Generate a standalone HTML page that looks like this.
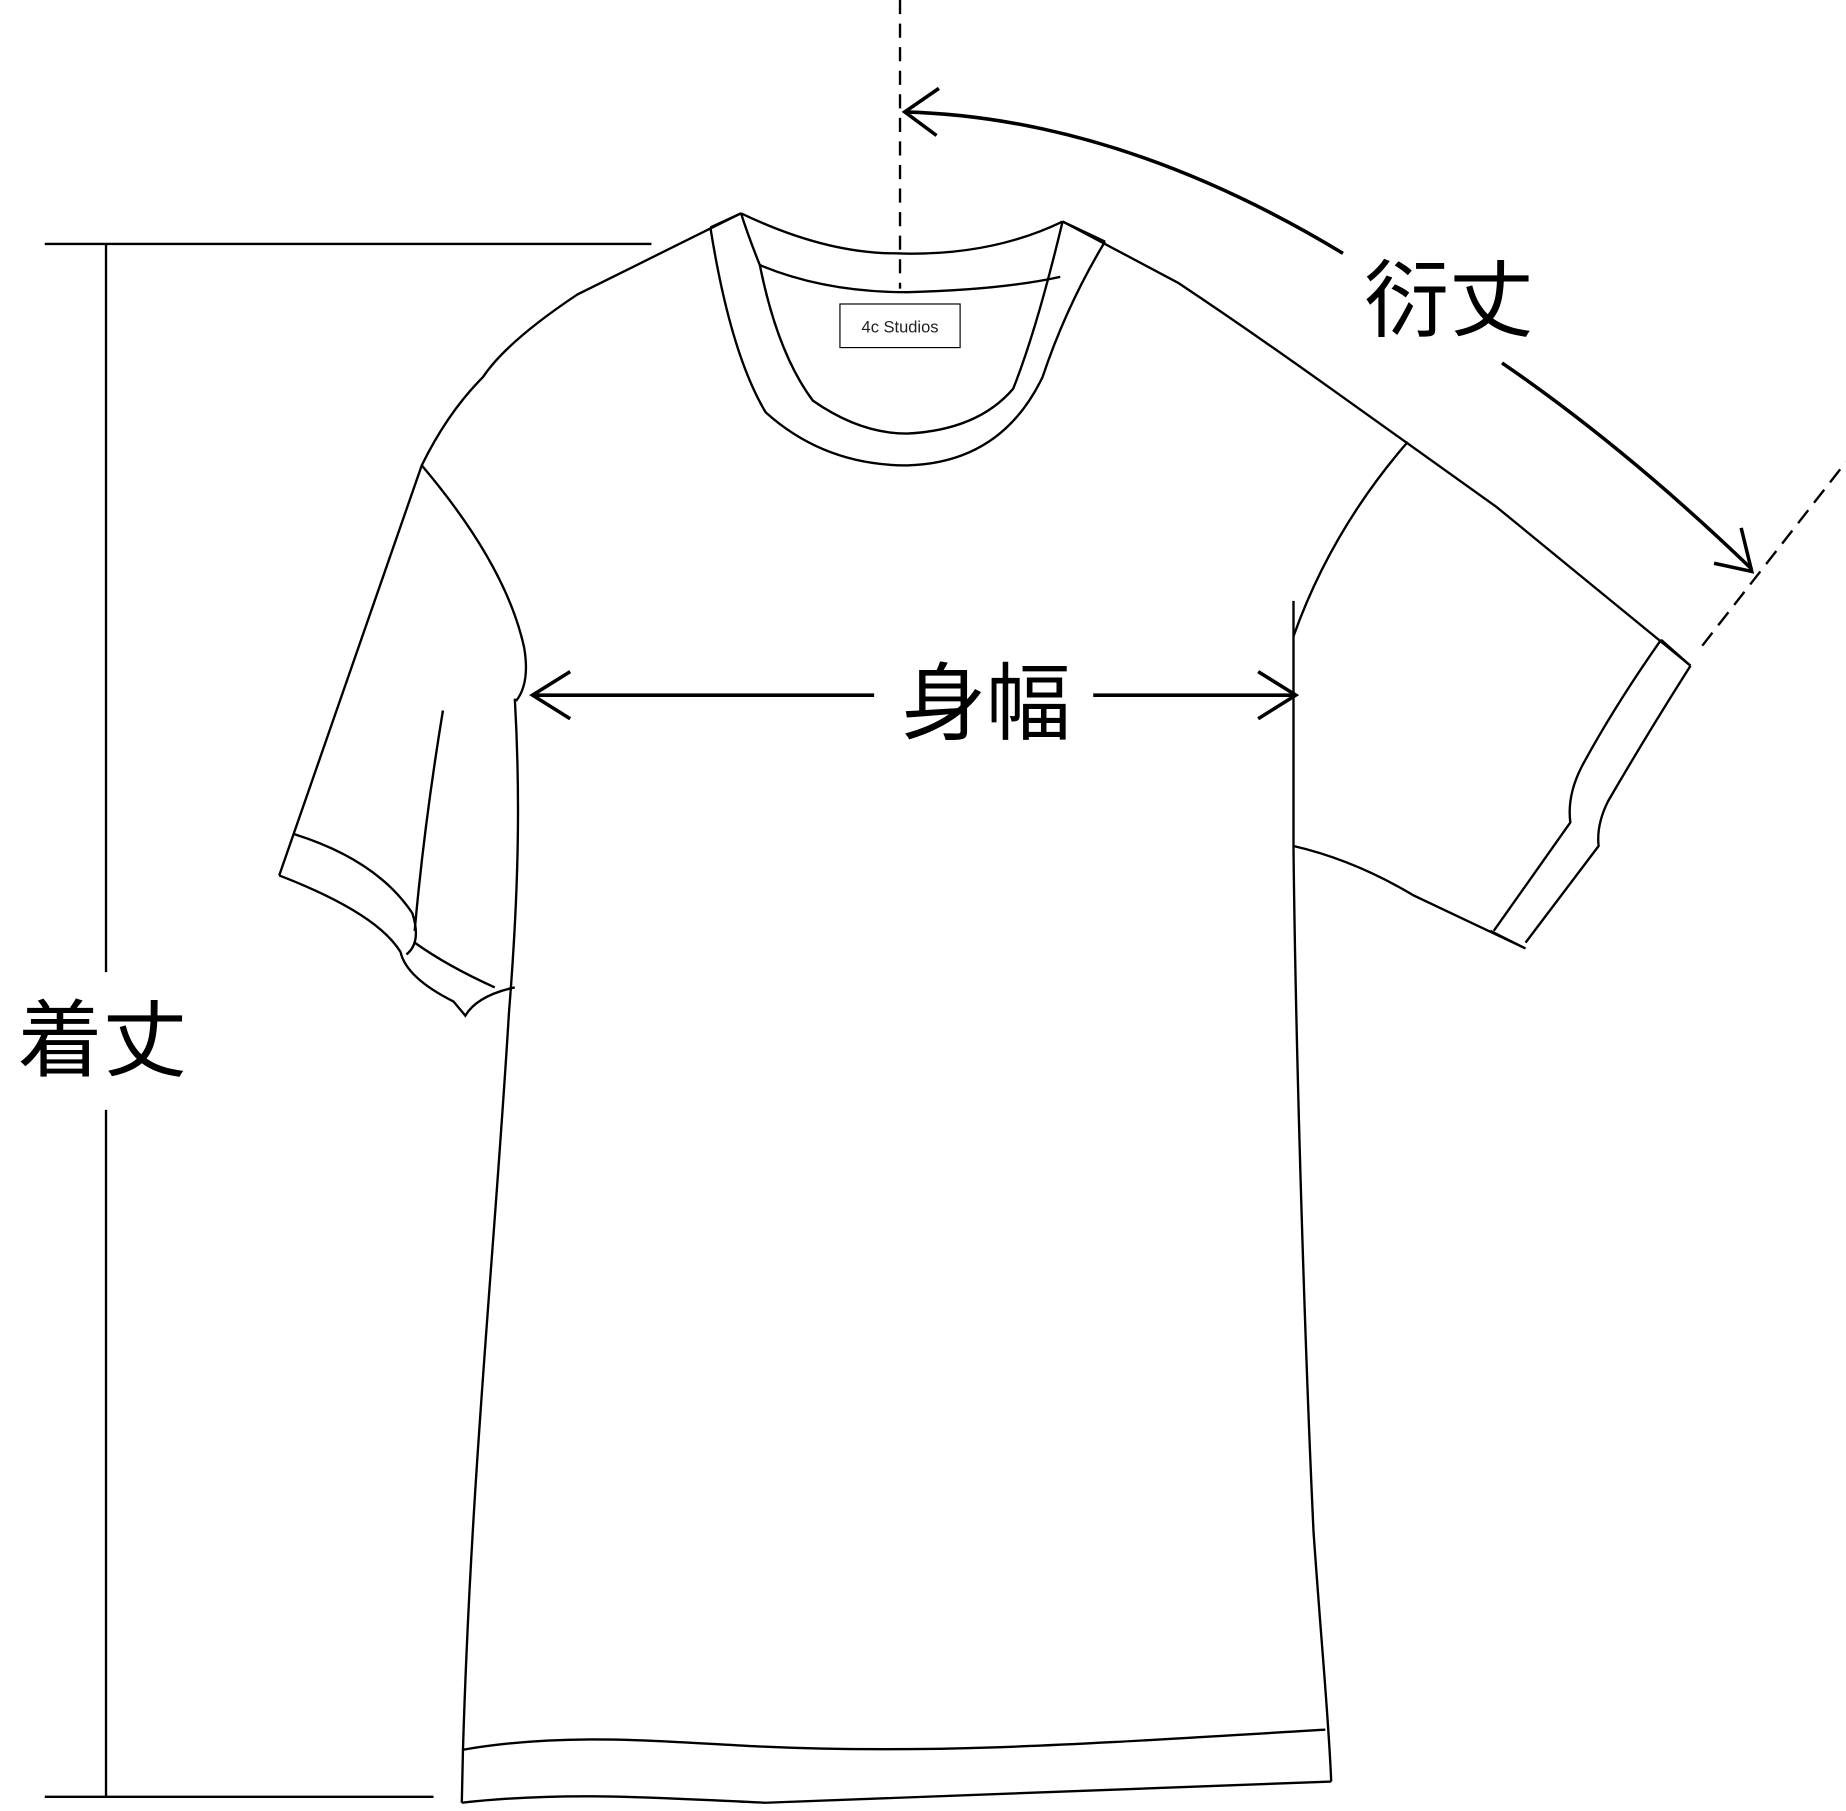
<!DOCTYPE html>
<html><head><meta charset="utf-8"><style>
html,body{margin:0;padding:0;background:#fff;}
svg{display:block}
text{font-family:"Liberation Sans","Noto Sans CJK JP",sans-serif;}
</style></head><body>
<svg width="1846" height="1811" viewBox="0 0 1567 1537" preserveAspectRatio="none" xmlns="http://www.w3.org/2000/svg">
<g fill="none" stroke="#000" stroke-width="2">
<line x1="764" y1="0" x2="764" y2="245" stroke-dasharray="12,8"/>
<path d="M768,95 Q950,100 1140,215" stroke-width="3"/>
<path d="M797,75 L768,95 L795,115" stroke-width="3"/>
<path d="M1275,308 Q1380,380 1487,483" stroke-width="3"/>
<path d="M1455,478 L1487,485 L1478,448" stroke-width="3"/>
<line x1="1445" y1="548" x2="1567" y2="392" stroke-dasharray="14,8"/>
<line x1="38" y1="207" x2="553" y2="207"/>
<line x1="90" y1="207" x2="90" y2="825"/>
<line x1="90" y1="942" x2="90" y2="1525"/>
<line x1="38" y1="1525" x2="368" y2="1525"/>
<line x1="452" y1="590" x2="742" y2="590" stroke-width="3"/>
<line x1="928" y1="590" x2="1100" y2="590" stroke-width="3"/>
<path d="M484,570 L452,590 L484,610" stroke-width="3"/>
<path d="M1068,570 L1100,590 L1068,610" stroke-width="3"/>
<path d="M629,181 L490,250 Q430,290 410,320 Q380,350 358,395 L237,743"/>
<path d="M237,743 Q320,775 340,808 Q345,830 385,850 L395,862 Q405,845 437,838"/>
<path d="M250,708 Q320,730 350,775 Q358,800 345,810 M352,800 Q380,820 420,838"/>
<path d="M358,395 Q430,480 445,550 Q450,580 438,595"/>
<path d="M437,593 C442,680 440,760 432,860 C420,1060 400,1250 393,1485 L392,1530"/>
<path d="M376,603 Q360,700 352,790"/>
<path d="M393,1485 C480,1470 560,1478 640,1482 C800,1490 950,1478 1125,1468"/>
<path d="M392,1530 C480,1520 560,1526 650,1530 C850,1524 1000,1518 1130,1512"/>
<path d="M1098,510 L1098,720 C1100,900 1108,1150 1115,1300 C1122,1400 1128,1460 1130,1512"/>
<path d="M902,188 L1000,240 Q1060,280 1130,330 L1270,430 L1435,565"/>
<path d="M1098,718 Q1150,730 1200,760 L1295,805 L1265,790"/>
<path d="M1435,565 L1410,543"/>
<path d="M1435,565 Q1400,620 1365,680 Q1355,700 1357,718 L1295,800"/>
<path d="M1410,543 Q1370,600 1343,650 Q1330,675 1333,698 L1268,790"/>
<path d="M1195,375 Q1130,450 1098,540"/>
<path d="M629,181 Q700,215 760,215 Q840,218 902,188"/>
<path d="M603,193 L629,181 M902,188 L938,205"/>
<path d="M603,193 Q620,300 650,350 Q700,395 770,395 Q850,393 885,320 Q905,260 938,205"/>
<path d="M645,225 Q700,248 770,248 Q850,246 900,235"/>
<path d="M629,181 Q635,200 645,225 Q660,300 690,340 Q730,368 770,368 Q830,365 860,330 Q880,280 902,188"/>
<rect x="713" y="258" width="102" height="37" stroke-width="1"/>
</g>
<text x="764" y="282" font-size="14" text-anchor="middle" fill="#222">4c Studios</text>
<text x="1158" y="280" font-size="72">衍丈</text>
<text x="15" y="908" font-size="72">着丈</text>
<text x="765" y="622" font-size="72">身幅</text>
</svg>
</body></html>
